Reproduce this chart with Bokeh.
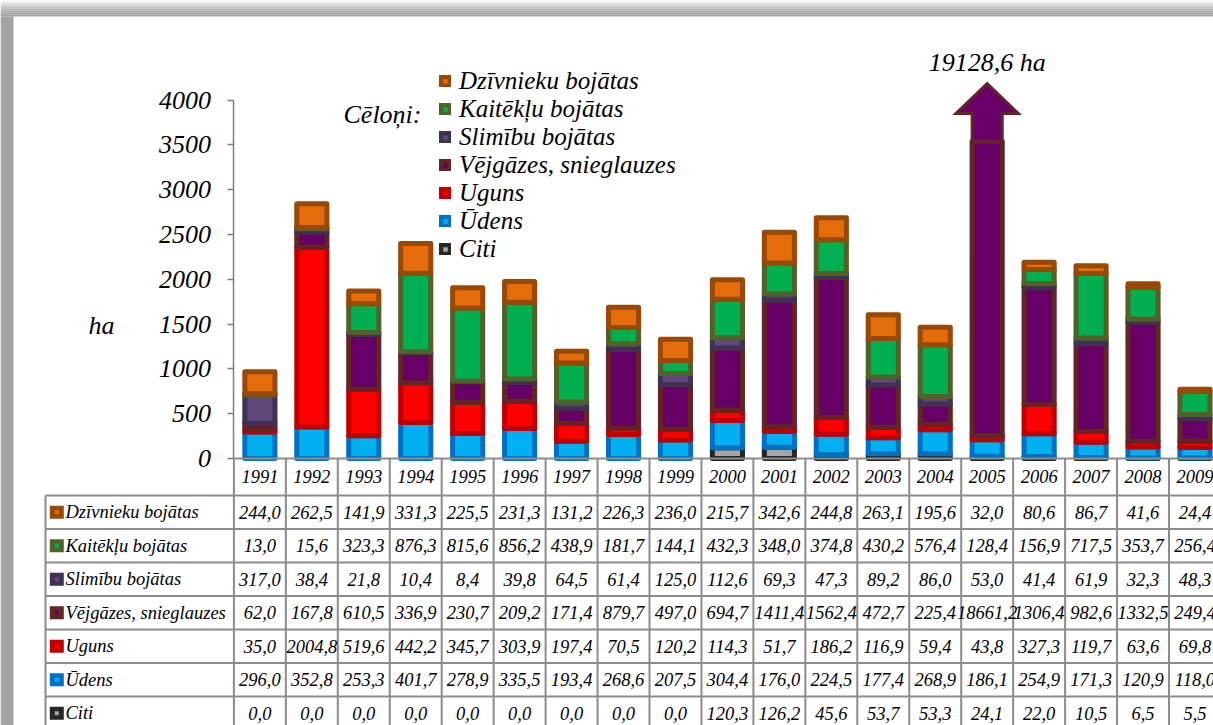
from bokeh.plotting import figure
from bokeh.models import Range1d, FixedTicker, Legend, LegendItem, Label, ColumnDataSource
from bokeh.embed import file_html
from bokeh.resources import INLINE
from bokeh.core.properties import value

# ---------------- data ----------------
YEARS = ["1991", "1992", "1993", "1994", "1995", "1996", "1997", "1998", "1999", "2000",
         "2001", "2002", "2003", "2004", "2005", "2006", "2007", "2008", "2009"]

DZIVNIEKU = [244.0, 262.5, 141.9, 331.3, 225.5, 231.3, 131.2, 226.3, 236.0, 215.7,
             342.6, 244.8, 263.1, 195.6, 32.0, 80.6, 86.7, 41.6, 24.4]
KAITEKLU = [13.0, 15.6, 323.3, 876.3, 815.6, 856.2, 438.9, 181.7, 144.1, 432.3,
            348.0, 374.8, 430.2, 576.4, 128.4, 156.9, 717.5, 353.7, 256.4]
SLIMIBU = [317.0, 38.4, 21.8, 10.4, 8.4, 39.8, 64.5, 61.4, 125.0, 112.6,
           69.3, 47.3, 89.2, 86.0, 53.0, 41.4, 61.9, 32.3, 48.3]
VEJGAZES = [62.0, 167.8, 610.5, 336.9, 230.7, 209.2, 171.4, 879.7, 497.0, 694.7,
            1411.4, 1562.4, 472.7, 225.4, 18661.2, 1306.4, 982.6, 1332.5, 249.4]
UGUNS = [35.0, 2004.8, 519.6, 442.2, 345.7, 303.9, 197.4, 70.5, 120.2, 114.3,
         51.7, 186.2, 116.9, 59.4, 43.8, 327.3, 119.7, 63.6, 69.8]
UDENS = [296.0, 352.8, 253.3, 401.7, 278.9, 335.5, 193.4, 268.6, 207.5, 304.4,
         176.0, 224.5, 177.4, 268.9, 186.1, 254.9, 171.3, 120.9, 118.0]
CITI = [0.0, 0.0, 0.0, 0.0, 0.0, 0.0, 0.0, 0.0, 0.0, 120.3,
        126.2, 45.6, 53.7, 53.3, 24.1, 22.0, 10.5, 6.5, 5.5]

SERIES_NAMES = ["Dzīvnieku bojātas", "Kaitēkļu bojātas", "Slimību bojātas",
                "Vējgāzes, snieglauzes", "Uguns", "Ūdens", "Citi"]
SERIES_VALUES = [DZIVNIEKU, KAITEKLU, SLIMIBU, VEJGAZES, UGUNS, UDENS, CITI]

Y_TICKS = [0, 500, 1000, 1500, 2000, 2500, 3000, 3500, 4000]
Y_AXIS_MAX = 4000
AXIS_BREAK = 3540      # value where the off-scale bar is cut
ARROW_BASE = 3850
ARROW_TOP = 4185
LEGEND_TITLE = "Cēloņi:"
Y_LABEL = "ha"
UNIT = " ha"

# ---------------- styles / layout ----------------
FILL = ["#E46C0A", "#00B050", "#604A7B", "#660066", "#FF0000", "#00B0F0", "#A6A6A6"]
LINE = ["#984807", "#4F6228", "#3F3151", "#632523", "#C00000", "#0070C0", "#262626"]
FONT = "Liberation Serif"
GRID = "#8c8c8c"
SHADOW = ["#f3f3f3", "#e3e3e3", "#d2d2d2", "#c3c3c3", "#b5b5b5", "#aaaaaa", "#a3a3a3", "#9f9f9f"]

W, H = 1213, 725
PX_PER_COL = 51.95
AXIS_PAGE_X = 233.4
BASE_PAGE_Y = 458.0
Y_PX = 0.0896
TABLE_TOP = 495.0
ROW_H = 33.5
TABLE_LEFT = 45.0
BAR_W = 0.58
ARROW_LABEL_GAP = 21.3   # px between arrow tip and label centre


def fmt(v):
    return f"{v:.1f}".replace(".", ",")


def x_at(px):
    return (px - AXIS_PAGE_X) / PX_PER_COL - 0.5


def y_at(py):
    return (BASE_PAGE_Y - py) / Y_PX


n = len(YEARS)
nrows = len(SERIES_NAMES)

p = figure(width=W, height=H, x_range=Range1d(x_at(0), x_at(W)),
           y_range=Range1d(y_at(H), y_at(0)),
           output_backend="svg", toolbar_location=None, min_border=0)
p.grid.visible = False
p.outline_line_color = None

# frame shadow
for j, c in enumerate(SHADOW):
    p.quad(left=x_at(0), right=x_at(W), top=y_at(2 * j), bottom=y_at(2 * j + 2),
           fill_color=c, line_color=None)
p.quad(left=x_at(0), right=x_at(13), top=y_at(16), bottom=y_at(H),
       fill_color="#a3a3a3", line_color=None)

# ---------------- stacked bars ----------------
bottoms = [0.0] * n
renderers = []
for k in range(nrows - 1, -1, -1):
    vals = SERIES_VALUES[k]
    xs, bs, ts = [], [], []
    for i, v in enumerate(vals):
        lo = bottoms[i]
        hi = lo + v
        bottoms[i] = hi
        if v <= 0 or lo >= AXIS_BREAK:
            continue
        xs.append(i)
        bs.append(lo)
        ts.append(min(hi, AXIS_BREAK))
    src = ColumnDataSource(dict(x=xs, bottom=bs, top=ts))
    r = p.vbar(x="x", bottom="bottom", top="top", width=BAR_W, source=src,
               fill_color=FILL[k], line_color=LINE[k], line_width=5, line_join="round")
    renderers.append((k, r))

totals = bottoms
for i, t in enumerate(totals):
    if t > AXIS_BREAK:
        sw = BAR_W / 2
        hw = 0.6
        p.patch(x=[i - sw, i - sw, i - hw, i, i + hw, i + sw, i + sw],
                y=[AXIS_BREAK, ARROW_BASE, ARROW_BASE, ARROW_TOP, ARROW_BASE, ARROW_BASE, AXIS_BREAK],
                fill_color=FILL[3], line_color=LINE[3], line_width=3, line_join="miter")
        p.text(x=[i], y=[ARROW_TOP + ARROW_LABEL_GAP / Y_PX], text=[fmt(t) + UNIT],
               text_align="center", text_baseline="middle",
               text_font=value(FONT), text_font_style=value("italic"),
               text_font_size="26px", text_color="black")

# ---------------- legend ----------------
items = [LegendItem(label=SERIES_NAMES[k], renderers=[r]) for k, r in sorted(renderers)]
legend = Legend(items=items, location=(439, 462), orientation="vertical",
                glyph_width=12, glyph_height=12, label_standoff=8, spacing=0,
                padding=0, margin=0, border_line_color=None, background_fill_alpha=0,
                label_text_font=FONT, label_text_font_style="italic",
                label_text_font_size="25px", label_text_color="black")
p.add_layout(legend)

p.add_layout(Label(x=x_at(343), y=y_at(113.7), text=LEGEND_TITLE, text_font=FONT,
                   text_font_style="italic", text_font_size="26px", text_color="black",
                   text_baseline="middle"))
p.add_layout(Label(x=x_at(88), y=y_at(324.5), text=Y_LABEL, text_font=FONT,
                   text_font_style="italic", text_font_size="26px", text_color="black",
                   text_baseline="middle"))

# ---------------- axes ----------------
ya = p.yaxis[0]
ya.fixed_location = -0.5
ya.ticker = FixedTicker(ticks=Y_TICKS)
ya.bounds = (0, Y_AXIS_MAX)
ya.major_tick_out = 6
ya.major_tick_in = 0
ya.minor_tick_out = 0
ya.minor_tick_in = 0
ya.minor_tick_line_color = None
ya.axis_line_color = "#7f7f7f"
ya.axis_line_width = 1.5
ya.major_tick_line_color = "#7f7f7f"
ya.major_tick_line_width = 1.5
ya.major_label_text_font = FONT
ya.major_label_text_font_style = "italic"
ya.major_label_text_font_size = "26px"
ya.major_label_text_color = "black"
ya.major_label_standoff = 17

xa = p.xaxis[0]
xa.fixed_location = 0
xa.ticker = FixedTicker(ticks=list(range(n)))
xa.bounds = (-0.5, x_at(W))
xa.major_label_overrides = {i: y for i, y in enumerate(YEARS)}
xa.major_tick_out = 0
xa.major_tick_in = 0
xa.major_tick_line_color = None
xa.minor_tick_out = 0
xa.minor_tick_in = 0
xa.minor_tick_line_color = None
xa.axis_line_color = GRID
xa.axis_line_width = 2
xa.major_label_text_font = FONT
xa.major_label_text_font_style = "italic"
xa.major_label_text_font_size = "18.5px"
xa.major_label_text_color = "black"
xa.major_label_standoff = 11

# ---------------- data table ----------------
hx0, hx1, hy = [], [], []
for k in range(nrows + 1):
    hx0.append(x_at(TABLE_LEFT))
    hx1.append(x_at(W) + 1)
    hy.append(y_at(TABLE_TOP + ROW_H * k))
vx, vy0, vy1 = [], [], []
for j in range(n + 1):
    vx.append(j - 0.5)
    vy0.append(0)
    vy1.append(y_at(H) - 500)
vx.append(x_at(TABLE_LEFT))
vy0.append(y_at(TABLE_TOP))
vy1.append(y_at(H) - 500)
p.segment(x0=hx0, y0=hy, x1=hx1, y1=hy, line_color=GRID, line_width=2)
p.segment(x0=vx, y0=vy0, x1=vx, y1=vy1, line_color=GRID, line_width=2)

rows_y = [y_at(TABLE_TOP + ROW_H * (k + 0.5)) for k in range(nrows)]
tx, ty, tt = [], [], []
for k, vals in enumerate(SERIES_VALUES):
    for i, v in enumerate(vals):
        tx.append(i)
        ty.append(rows_y[k])
        tt.append(fmt(v))
p.text(x=tx, y=ty, text=tt, text_align="center", text_baseline="middle",
       text_font=value(FONT), text_font_style=value("italic"), text_font_size="18.5px",
       text_color="black")

p.rect(x=[x_at(56.3)] * nrows, y=rows_y, width=14, height=13,
       width_units="screen", height_units="screen", fill_color=LINE, line_color=None)
p.rect(x=[x_at(56.3)] * nrows, y=rows_y, width=4, height=4,
       width_units="screen", height_units="screen", fill_color=FILL, line_color=None)
p.text(x=[x_at(65)] * nrows, y=rows_y, text=SERIES_NAMES, text_align="left",
       text_baseline="middle", text_font=value(FONT), text_font_style=value("italic"),
       text_font_size="18.5px", text_color="black")

open("out.html", "w").write(file_html(p, INLINE))
